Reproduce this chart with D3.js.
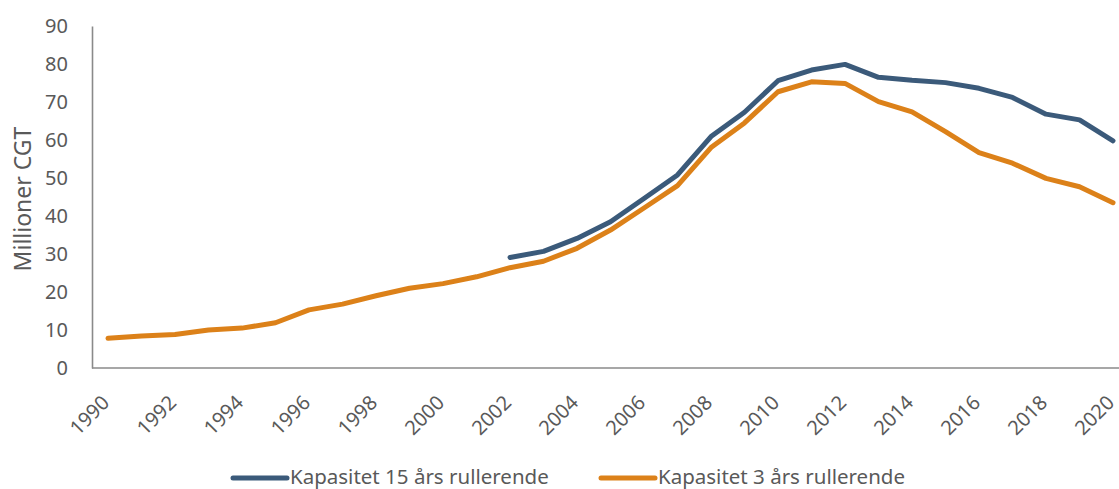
<!DOCTYPE html>
<html>
<head>
<meta charset="utf-8">
<script src="https://cdn.jsdelivr.net/npm/d3@7"></script>
<style>
  html, body { margin: 0; padding: 0; background: #ffffff; }
  svg { display: block; }
  text { font-family: "Noto Sans", "Open Sans", sans-serif; fill: #595959; }
</style>
</head>
<body>
<svg id="chart" width="1119" height="489"></svg>
<script>
const years = [1990, 1991, 1992, 1993, 1994, 1995, 1996, 1997, 1998, 1999, 2000,
               2001, 2002, 2003, 2004, 2005, 2006, 2007, 2008, 2009, 2010,
               2011, 2012, 2013, 2014, 2015, 2016, 2017, 2018, 2019, 2020];
const kap15 = [null, null, null, null, null, null, null, null, null, null, null,
               null, 29.1, 30.7, 34.1, 38.5, 44.6, 50.8, 60.9, 67.3, 75.6,
               78.4, 79.9, 76.5, 75.7, 75.1, 73.6, 71.2, 66.8, 65.3, 59.8];
const kap3 = [7.8, 8.4, 8.8, 10.0, 10.5, 11.9, 15.3, 16.8, 19.0, 21.0, 22.2,
              24.0, 26.4, 28.1, 31.5, 36.3, 42.1, 48.0, 58.0, 64.5, 72.7,
              75.3, 74.9, 70.1, 67.4, 62.2, 56.7, 53.9, 49.9, 47.7, 43.5];
const yTicks = [0, 10, 20, 30, 40, 50, 60, 70, 80, 90];
const xTickYears = [1990, 1992, 1994, 1996, 1998, 2000, 2002, 2004, 2006, 2008, 2010,
                    2012, 2014, 2016, 2018, 2020];
const seriesNames = ["Kapasitet 15 års rullerende", "Kapasitet 3 års rullerende"];
const seriesColors = ["#3b5a7a", "#dc8119"];
const yTitle = "Millioner CGT";

const svg = d3.select("#chart");
const axisLeftX = 92, axisRightX = 1119, yBottom = 368, yTop = 26;

const x = d3.scalePoint().domain(years).range([108, 1113]);
const y = d3.scaleLinear().domain([0, 90]).range([yBottom, yTop]);

// Y axis
const yAxis = svg.append("g")
  .attr("transform", `translate(${axisLeftX},0)`)
  .call(d3.axisLeft(y).tickValues(yTicks).tickSize(0).tickPadding(24));
yAxis.select(".domain").attr("stroke", "#8a8a8a").attr("stroke-width", 1.6);
yAxis.selectAll("text")
  .style("font-size", "20px").attr("fill", "#595959")
  .attr("font-family", "Noto Sans");

// X axis
const xAxis = svg.append("g")
  .attr("transform", `translate(0,${yBottom})`)
  .call(d3.axisBottom(x).tickValues(xTickYears).tickSize(0).tickFormat(d3.format("d")));
xAxis.select(".domain")
  .attr("d", `M${axisLeftX},0H${axisRightX}`)
  .attr("stroke", "#8a8a8a").attr("stroke-width", 1.6);
xAxis.selectAll(".tick text")
  .attr("y", 0).attr("dy", 0)
  .attr("text-anchor", "end")
  .attr("transform", "translate(2,36) rotate(-45)")
  .style("font-size", "20px").attr("fill", "#595959");

// Y title
svg.append("text")
  .attr("transform", `translate(31,199) rotate(-90)`)
  .attr("text-anchor", "middle")
  .style("font-size", "23px")
  .text(yTitle);

// Lines
const line = d3.line()
  .defined(d => d[1] !== null)
  .x(d => x(d[0]))
  .y(d => y(d[1]));

const series = [kap15, kap3];
[1, 0].forEach(i => {
  svg.append("path")
    .datum(years.map((yr, j) => [yr, series[i][j]]))
    .attr("fill", "none")
    .attr("stroke", seriesColors[i])
    .attr("stroke-width", 5)
    .attr("stroke-linejoin", "round")
    .attr("stroke-linecap", "round")
    .attr("d", line);
});

// Legend
const legendItems = [
  { x0: 233, x1: 287, tx: 290 },
  { x0: 601, x1: 655, tx: 658 }
];
legendItems.forEach((it, i) => {
  svg.append("line")
    .attr("x1", it.x0).attr("x2", it.x1)
    .attr("y1", 478).attr("y2", 478)
    .attr("stroke", seriesColors[i]).attr("stroke-width", 5)
    .attr("stroke-linecap", "round");
  svg.append("text")
    .attr("x", it.tx).attr("y", 477)
    .attr("dy", "0.35em")
    .style("font-size", "20.5px")
    .text(seriesNames[i]);
});
</script>
</body>
</html>
